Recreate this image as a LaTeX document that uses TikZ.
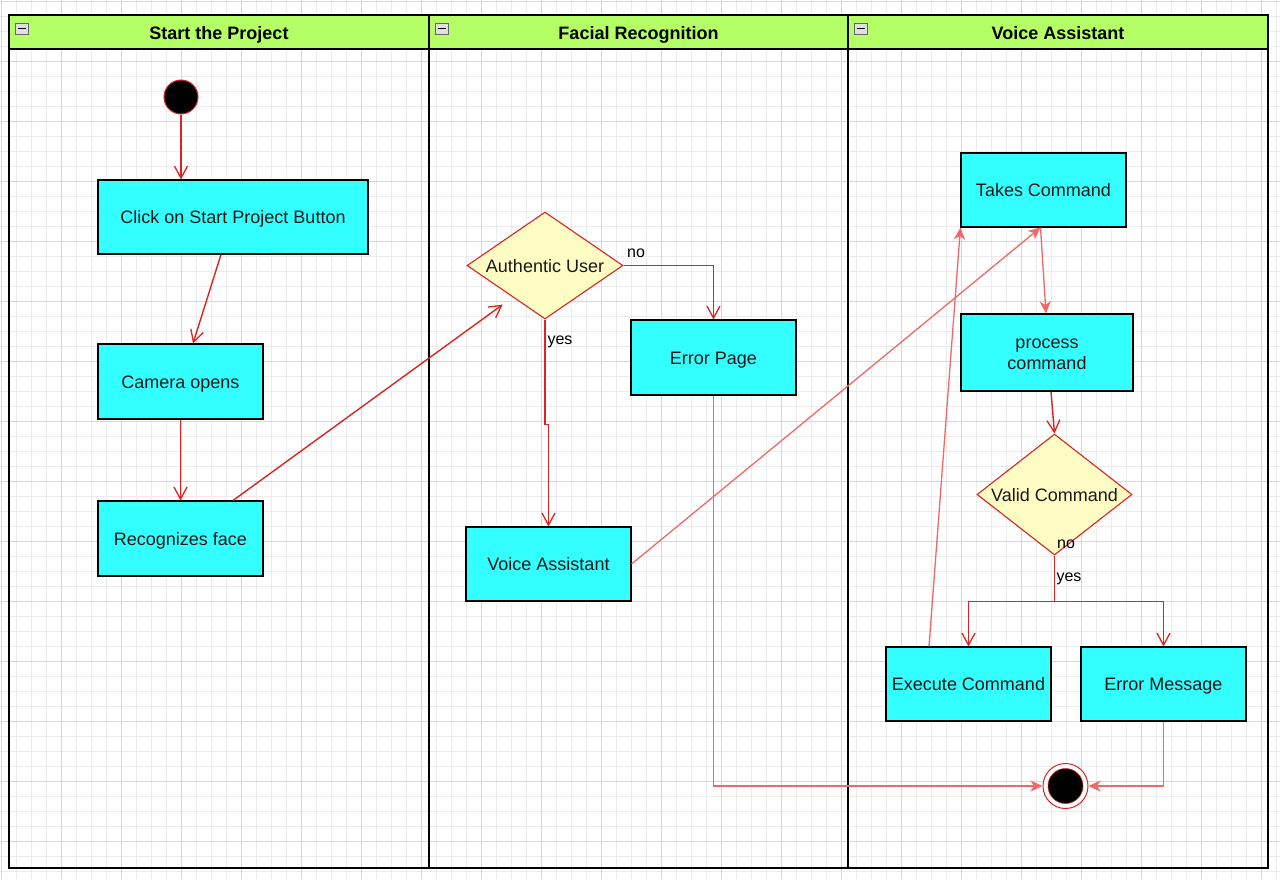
\documentclass[tikz,border=0pt]{standalone}
\usepackage{fontspec}
\setmainfont{Liberation Sans}
\usetikzlibrary{arrows.meta,shapes.geometric,calc}
\definecolor{dred}{RGB}{218,36,36}
\definecolor{lred}{RGB}{240,104,104}
\definecolor{boxc}{RGB}{51,255,255}
\definecolor{diac}{RGB}{255,252,196}
\definecolor{hdrc}{RGB}{180,255,102}
\definecolor{gminor}{RGB}{236,236,236}
\definecolor{gmajor}{RGB}{215,215,215}
\tikzset{
  box/.style={draw=black, line width=1.1pt, fill=boxc, minimum width=165pt, minimum height=75pt, inner sep=0pt, align=center, font=\fontsize{18}{21}\selectfont, text=black!90},
  boxs/.style={box, text height=14pt, text depth=1pt},
  dia/.style={diamond, draw=dred, line width=1.1pt, fill=diac, inner sep=0pt},
  dtext/.style={font=\fontsize{18}{21}\selectfont, text=black!90, text height=14pt, text depth=1pt},
  mtext/.style={font=\fontsize{18}{21}\selectfont, text=black!90, align=center, inner sep=0pt},
  lbl/.style={font=\fontsize{16}{18}\selectfont, inner sep=0pt, text height=11.5pt, text depth=3.5pt},
  darr/.style={draw=dred, line width=1.4pt, -{Straight Barb[length=12pt,width=13pt,line width=1.3pt]}},
  larr/.style={draw=lred, line width=1.3pt, -{Stealth[length=12pt,width=11pt,inset=3.5pt]}},
  hdr/.style={font=\bfseries\fontsize{18}{21}\selectfont, text height=14pt, text depth=1pt},
  icon/.style={draw=black!60, fill=black!12, line width=0.7pt, minimum width=13pt, minimum height=11pt, inner sep=0pt}
}
\begin{document}
\begin{tikzpicture}[x=1pt,y=-1pt]
\useasboundingbox (0,0) rectangle (1280,879);
\fill[white] (0,0) rectangle (1280,879);
% grid
\foreach \i in {0,...,85} {\draw[gminor, line width=0.6pt] (1.7+15*\i,0) -- (1.7+15*\i,879);}
\foreach \i in {0,...,58} {\draw[gminor, line width=0.6pt] (0,1.7+15*\i) -- (1280,1.7+15*\i);}
\foreach \i in {0,...,21} {\draw[gmajor, line width=0.7pt] (1.7+60*\i,0) -- (1.7+60*\i,879);}
\foreach \i in {0,...,14} {\draw[gmajor, line width=0.7pt] (0,1.7+60*\i) -- (1280,1.7+60*\i);}
% swimlanes
\fill[hdrc] (9,15) rectangle (1268,49);
\draw[black, line width=1.5pt] (9,15) rectangle (1268,868);
\draw[black, line width=1.5pt] (9,49) -- (1268,49);
\draw[black, line width=1.5pt] (429,15) -- (429,868);
\draw[black, line width=1.5pt] (848,15) -- (848,868);
\node[hdr] (h1) at (219,32.5) {Start the Project};
\node[hdr] (h2) at (638.5,32.5) {Facial Recognition};
\node[hdr] (h3) at (1058,32.5) {Voice Assistant};
\foreach \x/\n in {21.5/i1,441.5/i2,860.5/i3} {
  \node[icon] (\n) at (\x,28.5) {};
  \draw[black, line width=1.3pt] ($(\n.center)+(-4,0)$) -- ($(\n.center)+(4,0)$);
}
% nodes
\node[circle, draw=dred, line width=1pt, fill=black, minimum size=34pt, inner sep=0pt] (start) at (181,97) {};
\node[boxs, minimum width=270pt, minimum height=74pt] (click) at (233,217) {Click on Start Project Button};
\node[boxs] (camera) at (180.5,381.5) {Camera opens};
\node[boxs] (recog) at (180.5,538.5) {Recognizes face};
\node[dia, minimum width=156pt, minimum height=107pt] (auth) at (545,265.5) {};
\node[dtext] (autht) at (545,266) {Authentic User};
\node[boxs] (errp) at (713.5,357.5) {Error Page};
\node[boxs, minimum height=74pt] (va) at (548.5,564) {Voice Assistant};
\node[boxs, minimum height=74pt] (takes) at (1043.5,190) {Takes Command};
\node[box, minimum width=172pt, minimum height=77pt] (proc) at (1047,352.5) {};
\node[mtext] (proct) at (1047,354.5) {process\\command};
\node[dia, minimum width=155pt, minimum height=121pt] (valid) at (1054.5,494.5) {};
\node[dtext] (validt) at (1054.5,495) {Valid Command};
\node[boxs, minimum height=74pt] (exec) at (968.5,684) {Execute Command};
\node[boxs, minimum height=74pt] (errm) at (1163.5,684) {Error Message};
\node[circle, draw=dred, line width=1pt, fill=white, minimum size=45pt, inner sep=0pt] (end) at (1065.5,786) {};
\node[circle, draw=dred, line width=0.6pt, fill=black, minimum size=35pt, inner sep=0pt] (endin) at (1065.5,786) {};
% labels
\node[lbl] (lno1) at (636,253) {no};
\node[lbl] (lyes1) at (560,340) {yes};
\node[lbl] (lno2) at (1066,544) {no};
\node[lbl] (lyes2) at (1069,577) {yes};
% connectors
\draw[darr] (start.south) -- (start.south |- click.north);
\draw[darr] ($(click.south)+(-12,0)$) -- ($(camera.north)+(12.5,0)$);
\draw[darr] (camera.south) -- (recog.north);
\draw[darr] ($(recog.north)+(52.5,0)$) -- ($(auth.south west)+(-3,12)$);
\draw[darr] (auth.east) -| (errp.north);
\draw[darr] (auth.south) -- ++(0,105) -| (va.north);
\draw[larr] (va.east) -- ($(takes.south)+(-3,0)$);
\draw[larr] ($(takes.south)+(-3,0)$) -- ($(proc.north)+(-1,0)$);
\draw[darr] ($(proc.south)+(4,0)$) -- (valid.north);
\draw[darr] (valid.south) -- ++(0,46) -| (exec.north);
\draw[darr] (valid.south) -- ++(0,46) -| (errm.north);
\draw[larr] ($(exec.north)+(-39.5,0)$) -- (takes.south west);
\draw[larr] (errp.south) |- (end.west);
\draw[larr] (errm.south) |- (end.east);
\end{tikzpicture}
\end{document}
